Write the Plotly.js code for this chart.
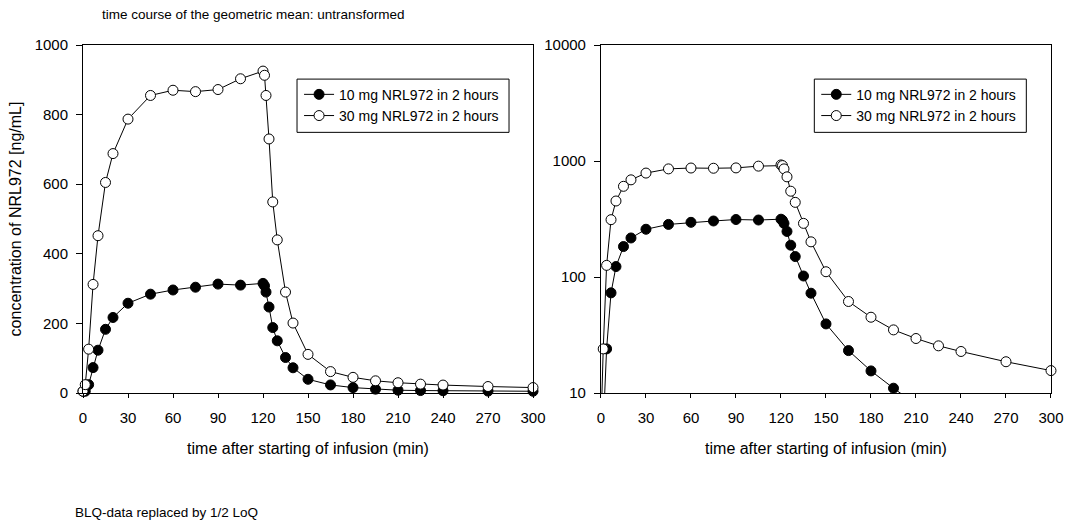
<!DOCTYPE html>
<html>
<head>
<meta charset="utf-8">
<script src="https://cdn.plot.ly/plotly-3.0.1.min.js"></script>
<style>html,body{margin:0;padding:0;background:#fff;}#chart{width:1066px;height:523px;}</style>
</head>
<body>
<div id="chart"></div>
<script>
// time after starting of infusion (min)
const time = [0, 1.5, 3.75, 6.7, 10, 15, 20, 30, 45, 60, 75, 90, 105, 120, 121, 122, 124, 126.5, 129.5, 135, 140, 150, 165, 180, 195, 210, 225, 240, 270, 300];
// geometric mean concentration [ng/mL]
const conc10 = [5, 5, 24, 73, 123, 183, 217, 258, 284, 296, 304, 313, 310, 315, 308, 290, 247, 188, 150, 102, 72.5, 39.4, 23.2, 15.5, 11, 8, 7, 6.5, 5.5, 5];
const conc30 = [5, 24, 126, 312, 452, 605, 688, 787, 855, 870, 866, 872, 903, 925, 913, 855, 730, 549, 440, 290, 201, 111, 61.5, 45, 35, 29.5, 25.5, 22.8, 18.6, 15.6];
const seriesNames = ["10 mg NRL972 in 2 hours", "30 mg NRL972 in 2 hours"];
const xTicks = [0, 30, 60, 90, 120, 150, 180, 210, 240, 270, 300];
const yTicksLin = [0, 200, 400, 600, 800, 1000];
const yTicksLog = [10, 100, 1000, 10000];
const titleText = "time course of the geometric mean: untransformed";
const xTitle = "time after starting of infusion (min)";
const yTitle = "concentration of NRL972 [ng/mL]";
const footnote = "BLQ-data replaced by 1/2 LoQ";

const FONT = "Liberation Sans, Arial, sans-serif";

function mk(y, name, filled, xa, ya, leg) {
  return {
    x: time, y: y, name: name, type: "scatter", mode: "lines+markers",
    xaxis: xa, yaxis: ya, legend: leg, cliponaxis: false,
    line: {color: "#000", width: 1},
    marker: {symbol: "circle", size: 10, color: filled ? "#000" : "#fff", line: {color: "#000", width: 1}}
  };
}

const data = [
  mk(conc10, seriesNames[0], true, "x", "y", "legend"),
  mk(conc30, seriesNames[1], false, "x", "y", "legend"),
  mk(conc10, seriesNames[0], true, "x2", "y2", "legend2"),
  mk(conc30, seriesNames[1], false, "x2", "y2", "legend2")
];

const tickFont = {family: FONT, size: 15, color: "#000"};
const baseX = {
  range: [0, 300], tickvals: xTicks, ticktext: xTicks.map(String),
  showline: true, linecolor: "#000", linewidth: 1, mirror: true,
  ticks: "outside", ticklen: 4, tickcolor: "#000", tickwidth: 1,
  showgrid: false, zeroline: false, tickfont: tickFont, ticklabelstandoff: 7,
  title: {text: xTitle, font: {family: FONT, size: 16, color: "#000"}, standoff: 17}
};
const overX = {
  range: [0, 300], tickvals: xTicks, showticklabels: false, showline: false,
  ticks: "inside", ticklen: 5, tickcolor: "#000", tickwidth: 1, mirror: "ticks",
  showgrid: false, zeroline: false
};

const layout = {
  width: 1066, height: 523,
  margin: {l: 83, r: 15, t: 45, b: 130},
  paper_bgcolor: "#fff", plot_bgcolor: "#fff",
  font: {family: FONT, color: "#000"},
  showlegend: true,
  xaxis: Object.assign({}, baseX, {domain: [0, 0.4649], anchor: "y"}),
  xaxis2: Object.assign({}, baseX, {domain: [0.5351, 1], anchor: "y2"}),
  xaxis3: Object.assign({}, overX, {overlaying: "x", anchor: "y"}),
  xaxis4: Object.assign({}, overX, {overlaying: "x2", anchor: "y2"}),
  yaxis: {
    domain: [0, 1], anchor: "x", range: [0, 1000], tickvals: yTicksLin, ticktext: yTicksLin.map(String),
    showline: true, linecolor: "#000", linewidth: 1, mirror: true,
    ticks: "outside", ticklen: 6, tickcolor: "#000", tickwidth: 1,
    showgrid: false, zeroline: false, tickfont: tickFont, ticklabelstandoff: 5,
    title: {text: yTitle, font: {family: FONT, size: 16, color: "#000"}, standoff: 9}
  },
  yaxis2: {
    domain: [0, 1], anchor: "x2", type: "log", range: [1, 4], tickvals: yTicksLog, ticktext: yTicksLog.map(String),
    showline: true, linecolor: "#000", linewidth: 1, mirror: true,
    ticks: "outside", ticklen: 6, tickcolor: "#000", tickwidth: 1,
    showgrid: false, zeroline: false, tickfont: tickFont, ticklabelstandoff: 5
  },
  yaxis3: {
    overlaying: "y", side: "right", anchor: "x", range: [0, 1000], tickvals: yTicksLin,
    showticklabels: false, showline: false, ticks: "inside", ticklen: 5, tickcolor: "#000",
    showgrid: false, zeroline: false
  },
  yaxis4: {
    overlaying: "y2", side: "right", anchor: "x2", type: "log", range: [1, 4], tickvals: yTicksLog,
    showticklabels: false, showline: false, ticks: "inside", ticklen: 5, tickcolor: "#000",
    showgrid: false, zeroline: false
  },
  legend: {
    x: 0.2232, y: 0.903, xanchor: "left", yanchor: "top",
    bgcolor: "rgba(0,0,0,0)", borderwidth: 0,
    font: {family: FONT, size: 14, color: "#000"}, tracegroupgap: 0
  },
  legend2: {
    x: 0.7575, y: 0.903, xanchor: "left", yanchor: "top",
    bgcolor: "rgba(0,0,0,0)", borderwidth: 0,
    font: {family: FONT, size: 14, color: "#000"}, tracegroupgap: 0
  },
  shapes: [
    {type: "rect", xref: "paper", yref: "paper", x0: 0.2211, x1: 0.4401, y0: 0.749, y1: 0.902,
     line: {color: "#000", width: 1}, fillcolor: "#fff", layer: "below"},
    {type: "rect", xref: "paper", yref: "paper", x0: 0.7555, x1: 0.9745, y0: 0.749, y1: 0.902,
     line: {color: "#000", width: 1}, fillcolor: "#fff", layer: "below"}
  ],
  annotations: [
    {text: titleText, xref: "paper", yref: "paper", x: 0.0176, y: 1.089, xanchor: "left", yanchor: "middle",
     showarrow: false, font: {family: FONT, size: 13.5, color: "#000"}},
    {text: footnote, xref: "paper", yref: "paper", x: -0.0103, y: -0.342, xanchor: "left", yanchor: "middle",
     showarrow: false, font: {family: FONT, size: 13.5, color: "#000"}}
  ]
};

Plotly.newPlot("chart", data, layout, {displayModeBar: false, staticPlot: true});
</script>
</body>
</html>
